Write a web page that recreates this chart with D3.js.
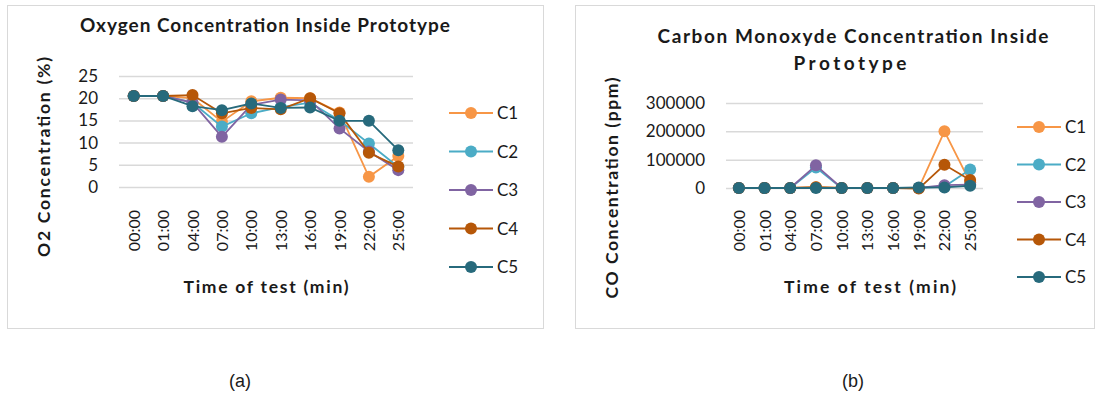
<!DOCTYPE html>
<html>
<head>
<meta charset="utf-8">
<style>
body { margin: 0; background: #fff; }
svg text { font-family: Lato, "Noto Sans", sans-serif; fill: #1a1a1a; }
.grid line { stroke: #d9d9d9; stroke-width: 1.5px; }
.grid .domain { display: none; }
.frame { fill: none; stroke: #d9d9d9; stroke-width: 1px; }
.series { fill: none; stroke-width: 1.8px; }
</style>
</head>
<body>
<script src="https://cdn.jsdelivr.net/npm/d3@7"></script>
<script>
// categories (time of test)
var times = ["00:00", "01:00", "04:00", "07:00", "10:00", "13:00", "16:00", "19:00", "22:00", "25:00"];
var seriesNames = ["C1", "C2", "C3", "C4", "C5"];
var seriesColors = ["#f79646", "#4bacc6", "#8064a2", "#b65708", "#276a7c"];

// O2 concentration (%)
var o2C1 = [20.5, 20.5, 20.0, 14.7, 19.3, 20.1, 20.0, 16.8, 2.3, 7.0];
var o2C2 = [20.5, 20.5, 19.0, 13.6, 16.6, 18.0, 19.0, 15.0, 9.8, 4.5];
var o2C3 = [20.5, 20.5, 19.0, 11.3, 18.5, 19.7, 19.5, 13.2, 8.0, 3.8];
var o2C4 = [20.5, 20.5, 20.7, 16.6, 17.8, 17.5, 20.0, 16.6, 7.7, 4.6];
var o2C5 = [20.5, 20.5, 18.2, 17.3, 18.8, 17.8, 17.9, 14.9, 14.9, 8.3];
var o2Ticks = [0, 5, 10, 15, 20, 25];

// CO concentration (ppm)
var coC1 = [0, 0, 0, 3000, 0, 0, 0, 0, 200000, 20000];
var coC2 = [0, 0, 0, 72000, 0, 0, 0, 0, 5000, 65000];
var coC3 = [0, 0, 0, 80000, 0, 0, 0, 0, 10000, 12000];
var coC4 = [0, 0, 0, 3000, 0, 0, 0, -2000, 82000, 28000];
var coC5 = [0, 0, 0, 0, 0, 0, 0, 2000, 2000, 8000];
var coTicks = [0, 100000, 200000, 300000];

var svg = d3.select("body").append("svg")
    .attr("width", 1098)
    .attr("height", 394);

function drawChart(opt) {
  var g = svg.append("g");

  g.append("rect").classed("frame", true)
      .attr("x", opt.box[0] + 0.5).attr("y", opt.box[1] + 0.5)
      .attr("width", opt.box[2]).attr("height", opt.box[3]);

  var x = d3.scaleBand().domain(times).range([opt.left, opt.right]);
  var y = d3.scaleLinear().domain(opt.domain).range([opt.bottom, opt.top]);

  // gridlines + tick labels
  var yAxis = d3.axisLeft(y).tickValues(opt.ticks)
      .tickSize(-(opt.right - opt.left))
      .tickPadding(21)
      .tickFormat(d3.format("d"));
  g.append("g").classed("grid", true)
      .attr("transform", "translate(" + opt.left + ",0)")
      .call(yAxis)
    .selectAll("text")
      .style("font-size", "17px")
      .style("font-family", "Lato, sans-serif")
      .attr("fill", "#1a1a1a");

  // rotated category labels
  g.selectAll(".xlab").data(times).enter().append("text")
      .attr("transform", function (d) {
        return "translate(" + (x(d) + x.bandwidth() / 2 + 6) + ",210) rotate(-90)";
      })
      .style("text-anchor", "end")
      .style("font-size", "16px")
      .text(function (d) { return d; });

  var line = d3.line()
      .x(function (d, i) { return x(times[i]) + x.bandwidth() / 2; })
      .y(function (d) { return y(d); });

  opt.series.forEach(function (vals, k) {
    g.append("path").classed("series", true)
        .attr("stroke", seriesColors[k])
        .attr("d", line(vals));
    g.selectAll(".m" + k).data(vals).enter().append("circle")
        .attr("cx", function (d, i) { return x(times[i]) + x.bandwidth() / 2; })
        .attr("cy", function (d) { return y(d); })
        .attr("r", 6)
        .attr("fill", seriesColors[k]);
  });

  // legend
  seriesNames.forEach(function (name, k) {
    var ly = opt.legend[1] + k * opt.legend[2];
    var lx = opt.legend[0];
    g.append("line")
        .attr("x1", lx).attr("x2", lx + 44)
        .attr("y1", ly).attr("y2", ly)
        .attr("stroke", seriesColors[k]).attr("stroke-width", 1.8);
    g.append("circle").attr("cx", lx + 22).attr("cy", ly).attr("r", 6)
        .attr("fill", seriesColors[k]);
    g.append("text").attr("x", lx + 48).attr("y", ly + 6)
        .style("font-size", "17px")
        .text(name);
  });

  // titles
  opt.title.forEach(function (t) {
    g.append("text")
        .attr("x", t[1]).attr("y", t[2])
        .attr("textLength", t[3]).attr("lengthAdjust", "spacing")
        .style("text-anchor", "middle")
        .style("font-size", "19px").style("font-weight", "bold")
        .text(t[0]);
  });

  g.append("text")
      .attr("transform", "translate(" + opt.xTitle[1] + ",293)")
      .attr("textLength", opt.xTitle[2]).attr("lengthAdjust", "spacing")
      .style("text-anchor", "middle")
      .style("font-size", "17.5px").style("font-weight", "bold")
      .text(opt.xTitle[0]);

  g.append("text")
      .attr("transform", "translate(" + opt.yTitle[1] + "," + opt.yTitle[2] + ") rotate(-90)")
      .attr("textLength", opt.yTitle[3]).attr("lengthAdjust", "spacing")
      .style("text-anchor", "middle")
      .style("font-size", "17.5px").style("font-weight", "bold")
      .text(opt.yTitle[0]);
}

drawChart({
  box: [7, 5, 536, 323],
  left: 119, right: 413, top: 76, bottom: 187,
  domain: [0, 25], ticks: o2Ticks,
  series: [o2C1, o2C2, o2C3, o2C4, o2C5],
  legend: [449, 113, 38.5],
  title: [["Oxygen Concentration Inside Prototype", 265, 32, 370]],
  xTitle: ["Time of test (min)", 266, 165],
  yTitle: ["O2 Concentration (%)", 50, 157, 200]
});

drawChart({
  box: [575, 5, 519, 323],
  left: 726, right: 983, top: 103, bottom: 188,
  domain: [0, 300000], ticks: coTicks,
  series: [coC1, coC2, coC3, coC4, coC5],
  legend: [1017, 127, 37.5],
  title: [["Carbon Monoxyde Concentration Inside", 853, 43, 391],
          ["Prototype", 850, 70, 113]],
  xTitle: ["Time of test (min)", 870, 172],
  yTitle: ["CO Concentration (ppm)", 618, 188, 221]
});

// panel captions
svg.append("text").attr("x", 240).attr("y", 387)
    .style("text-anchor", "middle")
    .style("font-family", "'Liberation Sans', Arial, sans-serif")
    .style("font-size", "18px")
    .text("(a)");
svg.append("text").attr("x", 853).attr("y", 387)
    .style("text-anchor", "middle")
    .style("font-family", "'Liberation Sans', Arial, sans-serif")
    .style("font-size", "18px")
    .text("(b)");
</script>
</body>
</html>
